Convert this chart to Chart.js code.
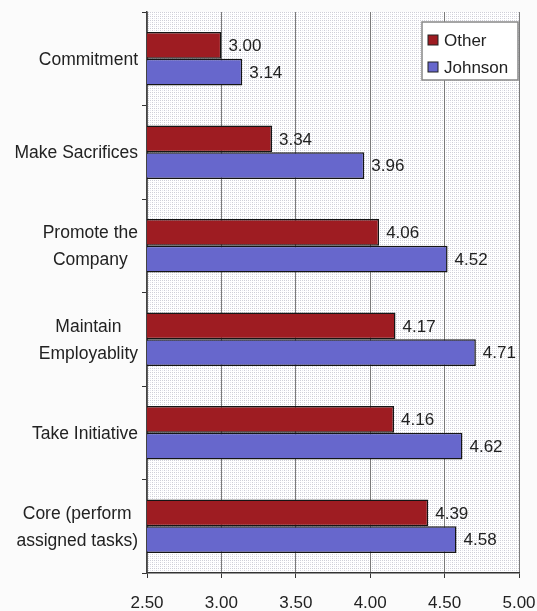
<!DOCTYPE html>
<html>
<head>
<meta charset="utf-8">
<script src="https://cdn.jsdelivr.net/npm/chart.js@4/dist/chart.umd.min.js"></script>
<style>
html,body{margin:0;padding:0;background:#fbfbfb;}
#wrap{width:537px;height:611px;position:relative;}
</style>
</head>
<body>
<div id="wrap"><canvas id="myChart"></canvas></div>
<script>
// data
const categories = [
  ["Commitment"],
  ["Make Sacrifices"],
  ["Promote the", "Company"],
  ["Maintain", "Employablity"],
  ["Take Initiative"],
  ["Core (perform", "assigned tasks)"]
];
const otherValues = [3.00, 3.34, 4.06, 4.17, 4.16, 4.39];
const johnsonValues = [3.14, 3.96, 4.52, 4.71, 4.62, 4.58];
const xTicks = [2.5, 3.0, 3.5, 4.0, 4.5, 5.0];

const FONT = "Liberation Sans, Arial, sans-serif";
const TEXT = "#222";

// dotted backdrop like the scanned plot area
function makePattern(){
  let c = document.createElement("canvas");
  c.width = 4; c.height = 4;
  let g = c.getContext("2d");
  g.fillStyle = "#ffffff";
  g.fillRect(0,0,4,4);
  g.fillStyle = "#cfcfd8";
  g.fillRect(0,0,1,1);
  g.fillRect(2,0,1,1);
  g.fillRect(0,2,1,1);
  g.fillStyle = "#e6e6ee";
  g.fillRect(2,2,1,1);
  return g.createPattern(c,"repeat");
}

const backdrop = {
  id:"backdrop",
  beforeDraw(chart){
    let a = chart.chartArea, ctx = chart.ctx;
    ctx.save();
    ctx.fillStyle = makePattern();
    ctx.fillRect(a.left, a.top, a.right-a.left, a.bottom-a.top);
    ctx.restore();
  }
};

const valueLabels = {
  id:"valueLabels",
  afterDatasetsDraw(chart){
    let ctx = chart.ctx;
    ctx.save();
    ctx.font = "17px " + FONT;
    ctx.fillStyle = TEXT;
    ctx.textAlign = "left";
    ctx.textBaseline = "middle";
    chart.data.datasets.forEach((ds,i)=>{
      chart.getDatasetMeta(i).data.forEach((el,j)=>{
        ctx.fillText(ds.data[j].toFixed(2), el.x+7, el.y+1);
      });
    });
    ctx.restore();
  }
};

const catLabels = {
  id:"catLabels",
  afterDraw(chart){
    let ctx = chart.ctx, y = chart.scales.y;
    ctx.save();
    ctx.font = "17.5px " + FONT;
    ctx.fillStyle = TEXT;
    ctx.textAlign = "center";
    ctx.textBaseline = "middle";
    categories.forEach((lines,i)=>{
      let w = Math.max(...lines.map(l=>ctx.measureText(l).width));
      let cx = 138 - w/2;
      let cy = y.getPixelForTick(i);
      lines.forEach((l,k)=>{
        ctx.fillText(l, cx, cy + 1 + (k-(lines.length-1)/2)*27);
      });
    });
    ctx.restore();
  }
};

const boxLegend = {
  id:"boxLegend",
  afterDraw(chart){
    let ctx = chart.ctx;
    let x0 = 422, y0 = 22, w = 96, h = 58;
    ctx.save();
    ctx.fillStyle = "#ffffff";
    ctx.fillRect(x0,y0,w,h);
    ctx.strokeStyle = "#888";
    ctx.lineWidth = 1.5;
    ctx.strokeRect(x0,y0,w,h);
    ctx.font = "17px " + FONT;
    ctx.textBaseline = "middle";
    chart.data.datasets.forEach((ds,i)=>{
      let cy = y0 + 18 + i*27;
      ctx.fillStyle = ds.backgroundColor;
      ctx.fillRect(x0+6, cy-5, 10, 10);
      ctx.strokeStyle = "#222";
      ctx.lineWidth = 1;
      ctx.strokeRect(x0+6, cy-5, 10, 10);
      ctx.fillStyle = TEXT;
      ctx.fillText(ds.label, x0+22, cy+1);
    });
    ctx.restore();
  }
};

const ctx = document.getElementById("myChart");

let chart = new Chart(ctx,{
  type:"bar",
  data:{
    labels: categories,
    datasets:[
      {
        label:"Other",
        data: otherValues,
        backgroundColor:"#9e1c22",
        borderColor:"#151515",
        borderWidth:1.5,
        borderSkipped:false,
        categoryPercentage:0.57,
        barPercentage:1.0
      },
      {
        label:"Johnson",
        data: johnsonValues,
        backgroundColor:"#6767cc",
        borderColor:"#151515",
        borderWidth:1.5,
        borderSkipped:false,
        categoryPercentage:0.57,
        barPercentage:1.0
      }
    ]
  },
  options:{
    indexAxis:"y",
    responsive:true,
    maintainAspectRatio:false,
    animation:false,
    layout:{padding:{top:12,left:0,right:0,bottom:0}},
    plugins:{
      legend:{display:false},
      tooltip:{enabled:false}
    },
    scales:{
      x:{
        min:2.5,
        max:5.0,
        afterBuildTicks(scale){
          scale.ticks = xTicks.map(v=>({value:v}));
        },
        afterFit(scale){
          scale.height = 38;
          scale.paddingRight = 18;
          scale.paddingLeft = 0;
        },
        grid:{color:"#7a7a7a", lineWidth:1, tickLength:5, tickColor:"#333"},
        border:{color:"#333", width:1.5},
        ticks:{
          font:{family:FONT, size:17},
          color:TEXT,
          padding:15,
          maxRotation:0,
          callback:(v)=>Number(v).toFixed(2)
        }
      },
      y:{
        afterFit(scale){ scale.width = 147; },
        grid:{drawOnChartArea:false, offset:true, tickLength:5, color:"#333"},
        border:{color:"#444", width:1.5},
        ticks:{display:false}
      }
    }
  },
  plugins:[backdrop, valueLabels, catLabels, boxLegend]
});
</script>
</body>
</html>
